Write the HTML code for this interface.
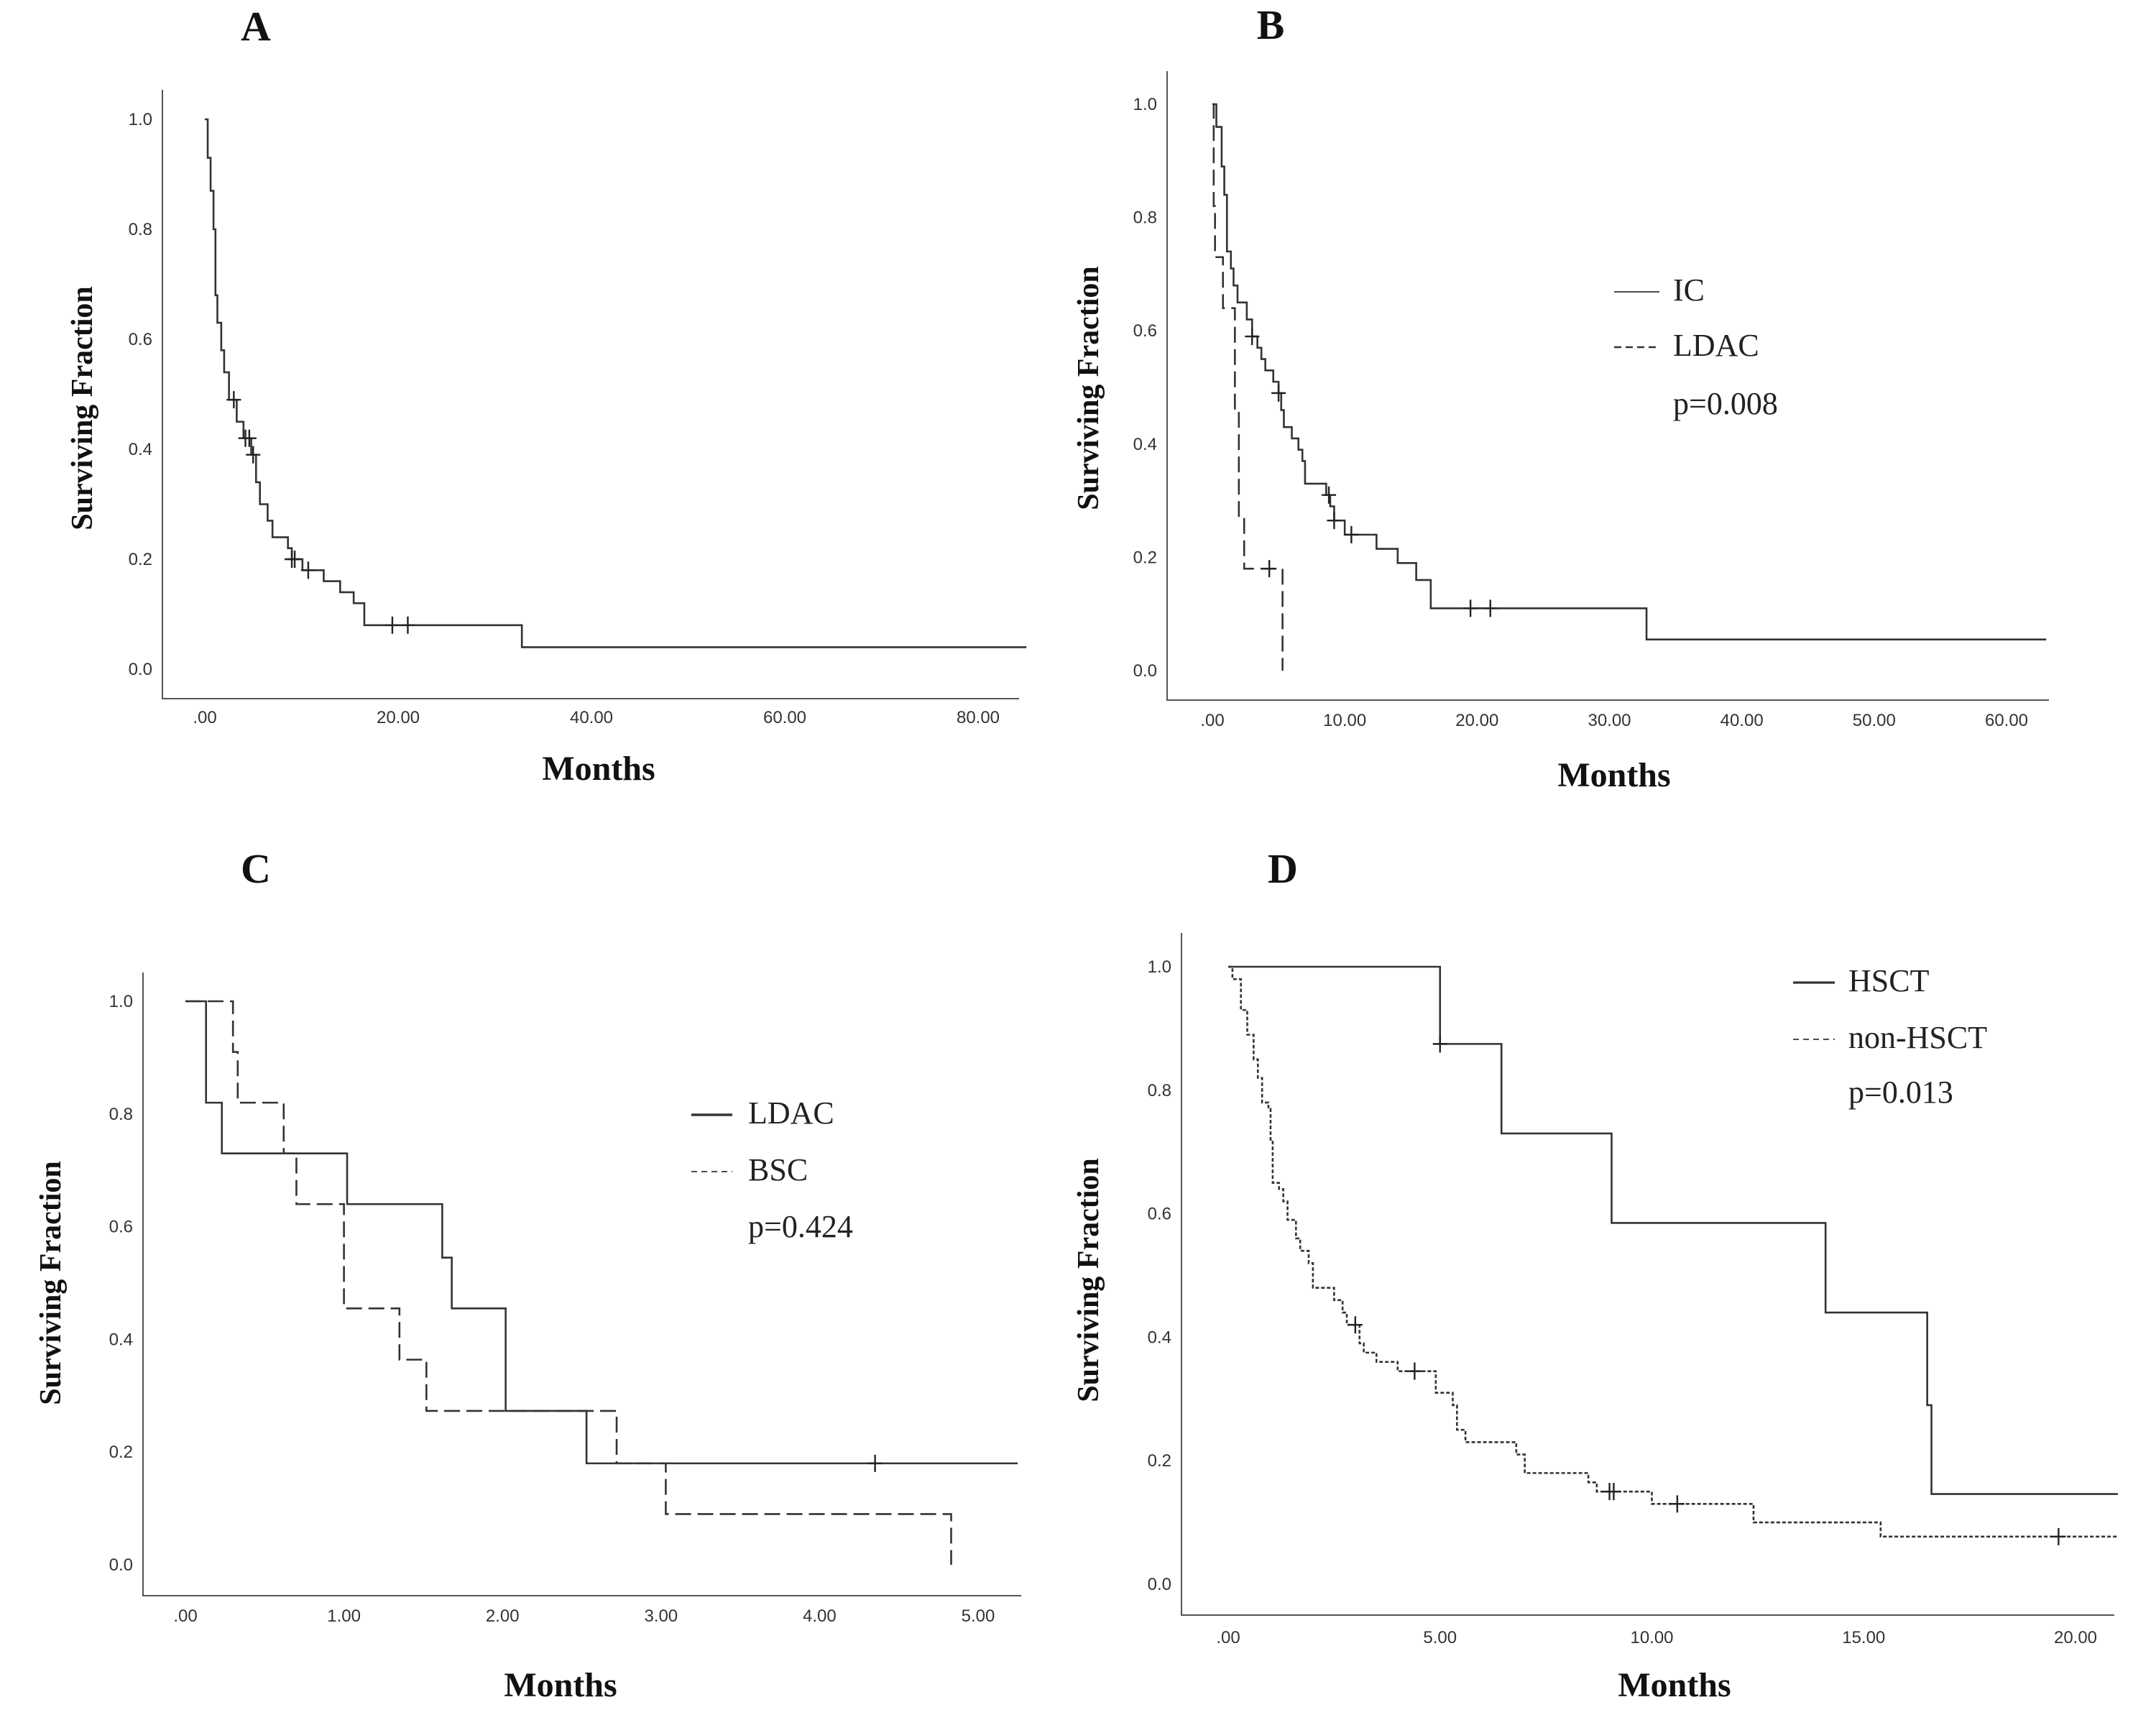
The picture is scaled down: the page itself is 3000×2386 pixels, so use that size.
<!DOCTYPE html>
<html><head><meta charset="utf-8">
<style>
html,body{margin:0;padding:0;background:#fff;}
svg{display:block;}
.tick{font-family:"Liberation Sans",sans-serif;font-size:24px;fill:#333;}
.ttl{font-family:"Liberation Serif",serif;font-weight:bold;fill:#111;}
.leg{font-family:"Liberation Serif",serif;font-size:44px;fill:#222;}
</style></head>
<body>
<svg id="fig" width="3000" height="2386" viewBox="0 0 3000 2386" xmlns="http://www.w3.org/2000/svg"></svg>
<script>
// ---------- Data ----------
const aTimes=[0,0.3,0.6,0.9,1.1,1.3,1.7,2.0,2.5,3.3,4.0,4.8,5.3,5.7,6.5,7.0,8.6,9.0,10.1,12.3,14.0,15.4,16.5,32.8];
const aSurv=[1.0,0.93,0.87,0.80,0.68,0.63,0.58,0.54,0.49,0.45,0.42,0.39,0.34,0.30,0.27,0.24,0.22,0.20,0.18,0.16,0.14,0.12,0.08,0.04];
const aCensor=[3.0,4.2,4.6,5.0,9.0,9.3,10.7,19.4,21.0];
const aEnd=[85];

const bIcTimes=[0,0.3,0.7,0.9,1.1,1.4,1.6,1.9,2.6,3.0,3.4,3.7,4.0,4.6,5.0,5.2,5.4,6.0,6.5,6.8,7.0,8.6,8.9,9.2,10.0,12.4,14.0,15.4,16.5,32.8];
const bIcSurv=[1.0,0.96,0.89,0.84,0.74,0.71,0.68,0.65,0.62,0.59,0.57,0.55,0.53,0.51,0.49,0.46,0.43,0.41,0.39,0.37,0.33,0.31,0.29,0.265,0.24,0.215,0.19,0.16,0.11,0.055];
const bIcCensor=[3.0,5.0,8.8,9.2,10.5,19.5,21.0];
const bIcEnd=[63];
const bLdacTimes=[0,0.1,0.2,0.8,1.7,2.0,2.4,5.3];
const bLdacSurv=[1.0,0.82,0.73,0.64,0.46,0.27,0.18,0.0];
const bLdacCensor=[4.3];
const bLdacEnd=[5.3];

const cLdacTimes=[0,0.13,0.23,1.02,1.62,1.68,2.02,2.53];
const cLdacSurv=[1.0,0.82,0.73,0.64,0.545,0.455,0.273,0.18];
const cLdacCensor=[4.35];
const cLdacEnd=[5.25];
const cBscTimes=[0,0.3,0.33,0.62,0.7,1.0,1.35,1.52,2.72,3.03,4.83];
const cBscSurv=[1.0,0.91,0.82,0.73,0.64,0.455,0.364,0.273,0.18,0.09,0.0];
const cBscCensor=[];
const cBscEnd=[4.83];

const dHsctTimes=[0,5.0,6.45,9.05,14.1,16.5,16.6];
const dHsctSurv=[1.0,0.875,0.73,0.585,0.44,0.29,0.146];
const dHsctCensor=[5.0];
const dHsctEnd=[21];
const dNonTimes=[0,0.1,0.3,0.45,0.6,0.7,0.8,0.95,1.0,1.05,1.2,1.3,1.4,1.6,1.7,1.9,2.0,2.5,2.7,2.8,3.1,3.2,3.5,4.0,4.9,5.3,5.4,5.6,6.8,7.0,8.5,8.7,10.0,12.4,15.4];
const dNonSurv=[1.0,0.98,0.93,0.89,0.85,0.82,0.78,0.77,0.72,0.65,0.64,0.62,0.59,0.56,0.54,0.52,0.48,0.46,0.44,0.42,0.39,0.375,0.36,0.345,0.31,0.29,0.25,0.23,0.21,0.18,0.165,0.15,0.13,0.10,0.077];
const dNonCensor=[3.0,4.4,9.0,9.1,10.6,19.6];
const dNonEnd=[21];

const aTicks=[".00","20.00","40.00","60.00","80.00"];
const bTicks=[".00","10.00","20.00","30.00","40.00","50.00","60.00"];
const cTicks=[".00","1.00","2.00","3.00","4.00","5.00"];
const dTicks=[".00","5.00","10.00","15.00","20.00"];
const aTickVals=[0,20,40,60,80];
const bTickVals=[0,10,20,30,40,50,60];
const cTickVals=[0,1,2,3,4,5];
const dTickVals=[0,5,10,15,20];
const yTicks=["0.0","0.2","0.4","0.6","0.8","1.0"];
const yTickVals=[0,0.2,0.4,0.6,0.8,1.0];

// ---------- Drawing ----------
const NS="http://www.w3.org/2000/svg";
const svg=document.getElementById('fig');
function mk(tag,attrs,parent,text){
  const e=document.createElementNS(NS,tag);
  for(const k in attrs) e.setAttribute(k,attrs[k]);
  if(text!==undefined) e.textContent=text;
  (parent||svg).appendChild(e);return e;
}
function survAt(times,surv,t){let s=surv[0];for(let i=0;i<times.length;i++){if(times[i]<=t)s=surv[i];}return s;}

function panel(p){
  const g=mk('g',{});
  
  
  const X=v=>p.x0+(v-p.xmin)*(p.x1-p.x0)/(p.xmax-p.xmin);
  const Y=v=>p.y0+(1-v)*(p.y1-p.y0);
  const lbl=mk('text',{x:p.lx,y:p.ly,'class':'ttl','font-size':58,'text-anchor':'middle'},g,p.id);
  
  
  const ax=mk('path',{d:`M${p.axL} ${p.axT} V${p.axB} H${p.axR}`,fill:'none',stroke:'#555','stroke-width':2},g);
  
  
  yTicks.forEach((t,i)=>{
    const e=mk('text',{x:p.axL-14,y:Y(yTickVals[i])+8,'class':'tick','text-anchor':'end'},g,t);
    
    
  });
  p.ticks.forEach((t,i)=>{
    const e=mk('text',{x:X(p.tickVals[i]),y:p.tickY,'class':'tick','text-anchor':'middle'},g,t);
    
    
  });
  const yt=mk('text',{x:0,y:0,'class':'ttl','font-size':42,'text-anchor':'middle',transform:`translate(${p.ytx},${p.yty}) rotate(-90)`},g,'Surviving Fraction');
  
  
  const xt=mk('text',{x:p.xtx,y:p.xty,'class':'ttl','font-size':48,'text-anchor':'middle'},g,'Months');
  
  
  p.series.forEach(s=>{
    let d=`M${X(s.times[0])} ${Y(s.surv[0])}`;
    for(let i=1;i<s.times.length;i++){d+=` H${X(s.times[i])} V${Y(s.surv[i])}`;}
    d+=` H${X(s.end[0])}`;
    const attrs={d:d,fill:'none',stroke:'#333','stroke-width':2.6};
    if(s.dash) attrs['stroke-dasharray']=s.dash;
    const path=mk('path',attrs,g);
    
    
    s.censor.forEach(t=>{
      const cx=X(t),cy=Y(survAt(s.times,s.surv,t));
      const c=mk('path',{d:`M${cx-10} ${cy} H${cx+10} M${cx} ${cy-12} V${cy+12}`,stroke:'#222','stroke-width':2.4,fill:'none'},g);
      
      
    });
  });
  (p.legend||[]).forEach((l,i)=>{
    const ly=p.legY[i];
    if(l.line){
      const a={x1:p.legLx0,x2:p.legLx1,y1:ly-12,y2:ly-12,stroke:'#333','stroke-width':l.w||2.6};
      if(l.dash)a['stroke-dasharray']=l.dash;
      const ln=mk('line',a,g);
      
      
    }
    const tx=mk('text',{x:p.legTx,y:ly,'class':'leg'},g,l.text);
    
    
  });
}

panel({id:'A',xmin:0,xmax:80,x0:285,x1:1361,y0:166,y1:931,axL:226,axT:125,axB:972,axR:1418,tickY:1006,
  ticks:aTicks,tickVals:aTickVals,lx:356,ly:56,ytx:128,yty:568,xtx:833,xty:1085,
  series:[{name:'all',times:aTimes,surv:aSurv,censor:aCensor,end:aEnd}]});
panel({id:'B',xmin:0,xmax:60,x0:1687,x1:2792,y0:145,y1:933,axL:1624,axT:99,axB:974,axR:2851,tickY:1010,
  ticks:bTicks,tickVals:bTickVals,lx:1768,ly:54,ytx:1528,yty:540,xtx:2246,xty:1094,
  series:[{name:'ic',times:bIcTimes,surv:bIcSurv,censor:bIcCensor,end:bIcEnd},
          {name:'ldac',times:bLdacTimes,surv:bLdacSurv,censor:bLdacCensor,end:bLdacEnd,dash:'22 9'}],
  legend:[{key:'ic',text:'IC',line:true,w:1.8},{key:'ldac',text:'LDAC',line:true,dash:'10 6'},{key:'p',text:'p=0.008'}],
  legY:[418,495,576],legLx0:2246,legLx1:2309,legTx:2328});
panel({id:'C',xmin:0,xmax:5,x0:258,x1:1361,y0:1393,y1:2177,axL:199,axT:1353,axB:2220,axR:1421,tickY:2256,
  ticks:cTicks,tickVals:cTickVals,lx:356,ly:1228,ytx:84,yty:1785,xtx:780,xty:2360,
  series:[{name:'ldac',times:cLdacTimes,surv:cLdacSurv,censor:cLdacCensor,end:cLdacEnd},
          {name:'bsc',times:cBscTimes,surv:cBscSurv,censor:cBscCensor,end:cBscEnd,dash:'22 9'}],
  legend:[{key:'ldac',text:'LDAC',line:true,w:3.4},{key:'bsc',text:'BSC',line:true,dash:'8 6',w:1.8},{key:'p',text:'p=0.424'}],
  legY:[1563,1642,1721],legLx0:962,legLx1:1019,legTx:1041});
panel({id:'D',xmin:0,xmax:20,x0:1709,x1:2888,y0:1345,y1:2204,axL:1644,axT:1298,axB:2247,axR:2942,tickY:2286,
  ticks:dTicks,tickVals:dTickVals,lx:1785,ly:1228,ytx:1528,yty:1781,xtx:2330,xty:2360,
  series:[{name:'hsct',times:dHsctTimes,surv:dHsctSurv,censor:dHsctCensor,end:dHsctEnd},
          {name:'non-hsct',times:dNonTimes,surv:dNonSurv,censor:dNonCensor,end:dNonEnd,dash:'5 3'}],
  legend:[{key:'hsct',text:'HSCT',line:true,w:3.2},{key:'non-hsct',text:'non-HSCT',line:true,dash:'8 6',w:1.8},{key:'p',text:'p=0.013'}],
  legY:[1379,1458,1534],legLx0:2495,legLx1:2553,legTx:2572});
</script>
</body></html>
